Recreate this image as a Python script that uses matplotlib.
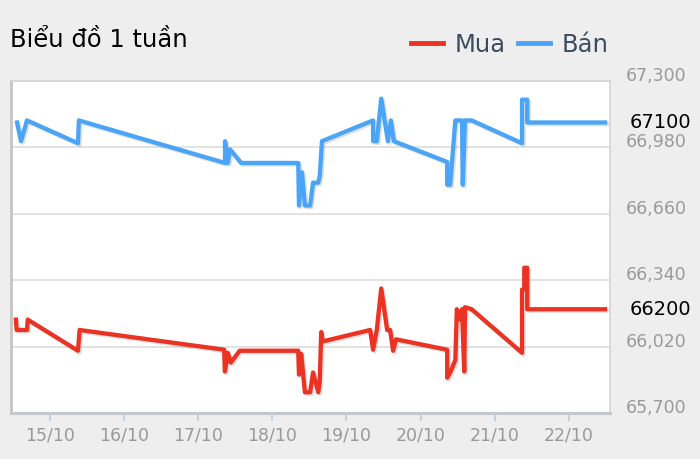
import matplotlib
matplotlib.use('Agg')
from matplotlib import pyplot as plt
import matplotlib.patheffects as pe
from matplotlib.lines import Line2D

# x = days counted from 15/10, y = price (VND)
ban_x = [-0.445, -0.391, -0.31, 0.378, 0.39, 2.362, 2.362, 2.40, 2.43, 2.58, 3.35, 3.36, 3.40, 3.44,
         3.51, 3.55, 3.62, 3.64, 3.67, 4.36, 4.36, 4.41, 4.47, 4.56, 4.60, 4.64, 5.36, 5.36, 5.40,
         5.47, 5.56, 5.57, 5.60, 5.69, 6.37, 6.37, 6.44, 6.44, 7.49]
ban_y = [67100, 67010, 67110, 67000, 67110, 66905, 67010, 66905, 66970, 66905, 66905, 66700, 66860, 66700,
         66700, 66810, 66810, 66840, 67010, 67110, 67010, 67010, 67215, 67010, 67110, 67010, 66910, 66800, 66800,
         67110, 67110, 66800, 67110, 67110, 67000, 67210, 67210, 67100, 67100]

mua_x = [-0.46, -0.45, -0.31, -0.30, 0.378, 0.40, 2.35, 2.36, 2.40, 2.44, 2.56, 3.35, 3.36, 3.39,
         3.44, 3.51, 3.55, 3.62, 3.64, 3.66, 3.68, 4.32, 4.36, 4.41, 4.47, 4.51, 4.55, 4.59, 4.63,
         4.67, 5.36, 5.36, 5.40, 5.47, 5.49, 5.53, 5.56, 5.59, 5.60, 5.69, 6.37, 6.37, 6.40, 6.40,
         6.44, 6.44, 7.49]
mua_y = [66150, 66100, 66100, 66150, 66000, 66100, 66005, 65900, 65990, 65943, 66000, 66000, 65885, 65985,
         65800, 65800, 65895, 65800, 65850, 66090, 66045, 66100, 66005, 66100, 66300, 66200, 66100, 66100, 66000,
         66055, 66005, 65870, 65895, 65955, 66200, 66150, 66200, 65900, 66210, 66200, 65990, 66295, 66295, 66400,
         66400, 66200, 66200]

date_ticks = [0, 1, 2, 3, 4, 5, 6, 7]
date_labels = ['15/10', '16/10', '17/10', '18/10', '19/10', '20/10', '21/10', '22/10']
price_ticks = [65700, 66020, 66340, 66660, 66980, 67300]
price_labels = ['65,700', '66,020', '66,340', '66,660', '66,980', '67,300']
last_ban = 67100
last_mua = 66200

RED = '#ea3323'
BLUE = '#4ba5f7'


def main():
    fig = plt.figure(figsize=(7, 4.59), dpi=100, facecolor='#eeeeee')
    ax = fig.add_axes([11 / 700, 46 / 459, 599 / 700, 332 / 459])
    ax.set_facecolor('white')

    shadow = [pe.SimpleLineShadow(offset=(1.2, -1.2), shadow_color='black', alpha=0.12), pe.Normal()]
    ax.plot(ban_x, ban_y, color=BLUE, lw=3.1, path_effects=shadow, zorder=3)
    ax.plot(mua_x, mua_y, color=RED, lw=3.1, path_effects=shadow, zorder=3)

    ax.set_xlim(-0.526, 7.557)
    ax.set_ylim(price_ticks[0], price_ticks[-1])

    # y axis on the right, labels sit just above the grid lines
    ax.set_yticks(price_ticks, price_labels)
    ax.yaxis.tick_right()
    ax.tick_params(axis='y', length=0, pad=11.5, labelsize=12.5, labelcolor='#999999')
    for lbl in ax.get_yticklabels():
        lbl.set_va('baseline')
    ax.grid(axis='y', color='#dddddd', lw=1.2)
    ax.set_axisbelow(True)

    ax.set_xticks(date_ticks, date_labels)
    ax.tick_params(axis='x', direction='out', length=5.5, width=1.5, color='#c4d2e0',
                   labelsize=12.5, labelcolor='#999999', pad=4)

    for side in ['top', 'right']:
        ax.spines[side].set_color('#d4d4d4')
        ax.spines[side].set_linewidth(1.2)
    ax.spines['left'].set_color('#c4c4c4')
    ax.spines['left'].set_linewidth(2)
    ax.spines['bottom'].set_color('#c4c8cc')
    ax.spines['bottom'].set_linewidth(2.2)

    # last values
    ax.text(1.032, last_ban, f'{last_ban}', transform=ax.get_yaxis_transform(),
            ha='left', va='center', fontsize=14, color='black')
    ax.text(1.032, last_mua, f'{last_mua}', transform=ax.get_yaxis_transform(),
            ha='left', va='center', fontsize=14, color='black')

    fig.text(10 / 700, 1 - 40 / 459, 'Biểu đồ 1 tuần', fontsize=17.5, ha='left', va='center')

    handles = [Line2D([], [], color=RED, lw=3.5), Line2D([], [], color=BLUE, lw=3.5)]
    fig.legend(handles, ['Mua', 'Bán'], loc='center right', bbox_to_anchor=(621 / 700, 1 - 45 / 459),
               ncol=2, frameon=False, fontsize=17.5, labelcolor='#3d4b5e',
               handlelength=1.3, handletextpad=0.5, columnspacing=0.5, borderpad=0)

    fig.savefig('out.png', dpi=100, facecolor=fig.get_facecolor())
    plt.close(fig)


if __name__ == '__main__':
    main()
